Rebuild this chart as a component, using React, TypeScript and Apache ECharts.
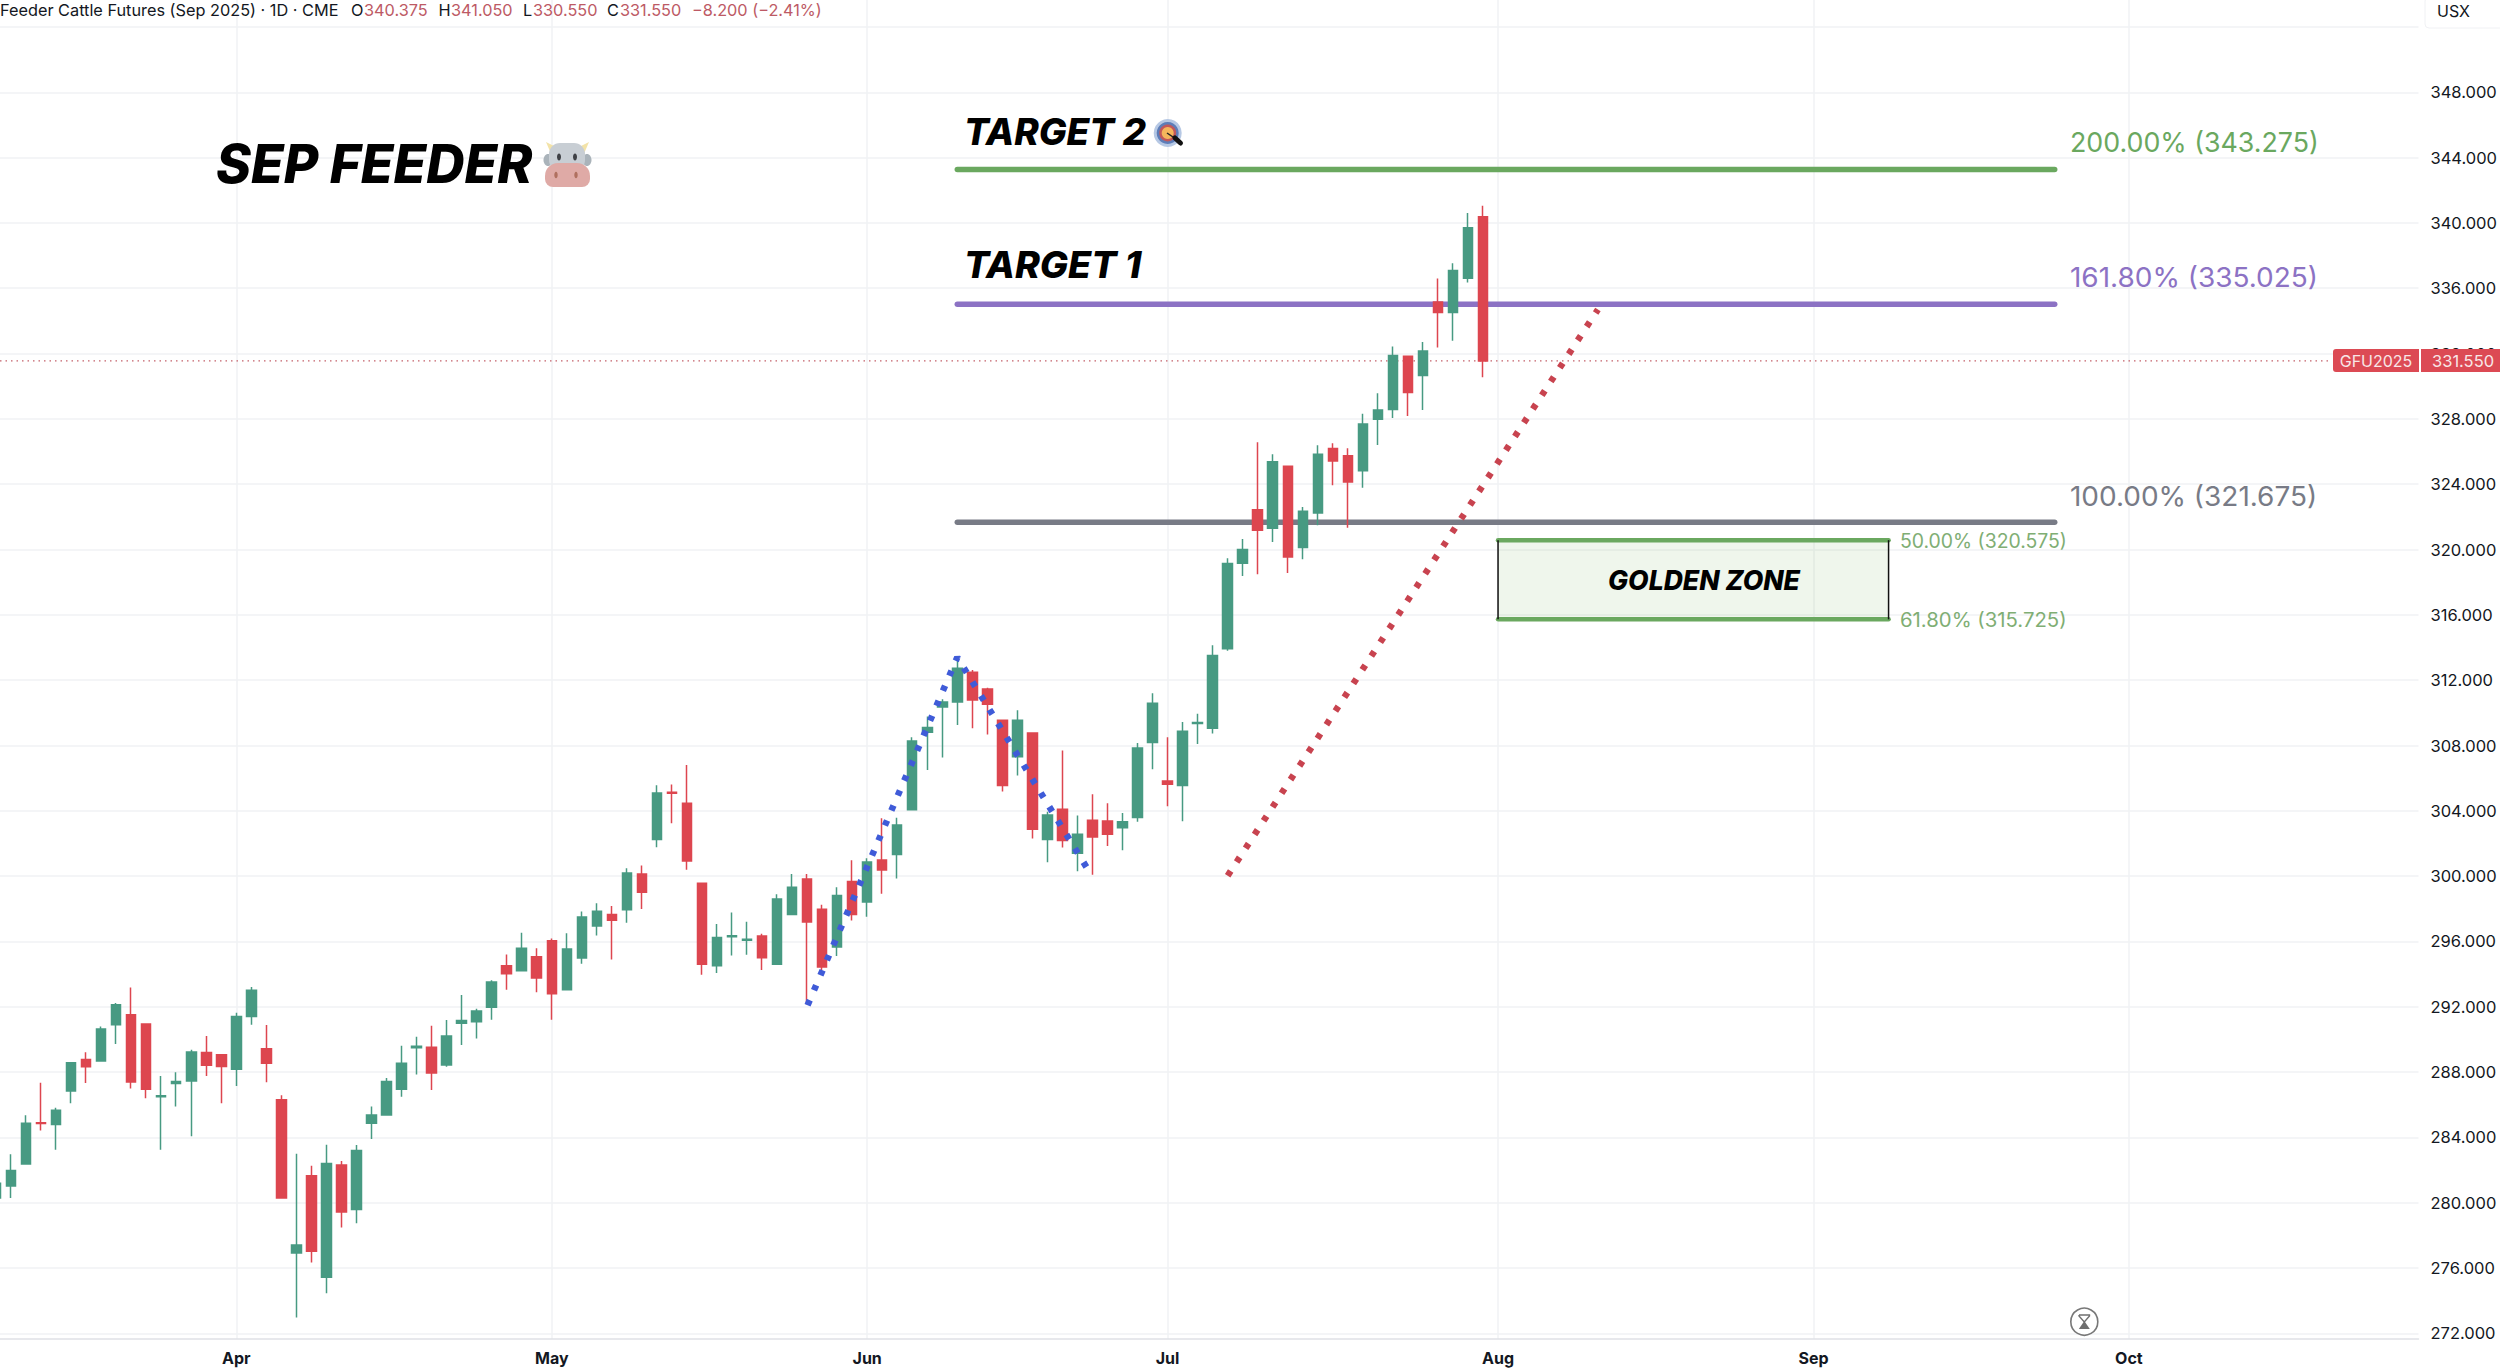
import React, { useEffect, useRef } from "react";
import * as echarts from "echarts";

// [open, close, low, high] per trading day
const ohlc: number[][] = [
  [280.3, 281.2, 279.5, 281.8],
  [281.03, 281.98, 280.3, 282.98],
  [282.38, 284.87, 282.38, 285.36],
  [284.9, 284.85, 284.42, 287.35],
  [284.8, 285.67, 283.25, 285.82],
  [286.84, 288.57, 286.09, 288.6],
  [288.77, 288.33, 287.33, 289.22],
  [288.68, 290.64, 288.68, 290.79],
  [290.9, 292.12, 289.73, 292.23],
  [291.52, 287.4, 287.0, 293.19],
  [290.95, 286.95, 286.4, 290.95],
  [286.5, 286.56, 283.25, 287.77],
  [287.31, 287.42, 285.89, 288.0],
  [287.46, 289.24, 284.07, 289.37],
  [289.2, 288.42, 287.77, 290.22],
  [289.06, 288.35, 286.09, 289.06],
  [288.17, 291.41, 287.15, 291.64],
  [291.41, 293.01, 290.9, 293.21],
  [289.44, 288.55, 287.38, 290.88],
  [286.31, 280.3, 280.3, 286.58],
  [276.93, 277.41, 272.98, 283.0],
  [281.65, 277.04, 276.35, 282.27],
  [275.44, 282.41, 274.46, 283.56],
  [282.32, 279.43, 278.48, 282.56],
  [279.59, 283.2, 278.74, 283.54],
  [284.87, 285.38, 283.91, 285.89],
  [285.38, 287.42, 285.38, 287.64],
  [286.95, 288.55, 286.49, 289.62],
  [289.5, 289.58, 287.86, 290.17],
  [289.53, 287.95, 286.91, 290.84],
  [288.44, 290.22, 288.33, 291.19],
  [290.99, 291.17, 289.66, 292.72],
  [291.08, 291.75, 290.06, 291.88],
  [291.97, 293.52, 291.21, 293.63],
  [294.52, 294.03, 293.05, 295.21],
  [294.21, 295.58, 294.21, 296.54],
  [295.07, 293.76, 292.89, 295.58],
  [296.05, 292.8, 291.21, 296.19],
  [293.05, 295.54, 293.05, 296.5],
  [294.99, 297.5, 294.64, 297.83],
  [296.95, 297.85, 296.36, 298.34],
  [297.66, 297.3, 294.89, 298.17],
  [297.95, 300.19, 297.15, 300.48],
  [300.13, 299.01, 297.99, 300.66],
  [302.24, 305.09, 301.77, 305.56],
  [305.14, 305.08, 303.24, 305.62],
  [304.46, 300.93, 300.4, 306.81],
  [299.56, 294.6, 293.97, 299.58],
  [294.52, 296.25, 294.07, 297.07],
  [296.29, 296.35, 295.15, 297.77],
  [296.08, 296.14, 295.19, 297.21],
  [296.34, 295.01, 294.25, 296.48],
  [294.6, 298.6, 294.6, 298.89],
  [297.66, 299.32, 297.66, 300.13],
  [299.83, 297.19, 292.15, 300.13],
  [297.97, 294.44, 294.25, 298.25],
  [295.66, 298.81, 295.11, 299.32],
  [299.68, 297.66, 297.28, 300.97],
  [298.42, 300.87, 297.52, 301.09],
  [300.99, 300.38, 298.93, 303.54],
  [301.32, 303.13, 299.85, 303.58],
  [304.07, 308.28, 304.07, 308.5],
  [308.81, 309.11, 306.5, 309.77],
  [310.36, 310.67, 307.26, 310.83],
  [310.67, 312.73, 309.26, 313.2],
  [312.49, 310.79, 309.06, 312.63],
  [311.46, 310.53, 308.67, 311.53],
  [309.55, 305.55, 305.18, 309.55],
  [307.32, 309.55, 306.16, 310.16],
  [308.77, 302.87, 302.3, 308.77],
  [302.24, 303.75, 300.85, 303.95],
  [304.1, 302.18, 301.75, 307.69],
  [301.4, 302.56, 300.3, 303.71],
  [303.42, 302.4, 300.09, 305.01],
  [303.38, 302.56, 301.85, 304.46],
  [302.97, 303.34, 301.59, 303.87],
  [303.59, 307.85, 303.34, 308.16],
  [308.18, 310.59, 306.55, 311.2],
  [305.83, 305.63, 304.28, 308.5],
  [305.55, 308.87, 303.36, 309.44],
  [309.35, 309.41, 308.1, 309.95],
  [309.06, 313.51, 308.73, 314.14],
  [313.93, 319.14, 313.81, 319.46],
  [319.16, 320.0, 318.38, 320.65],
  [322.44, 321.18, 318.48, 326.57],
  [321.3, 325.38, 320.46, 325.83],
  [325.1, 319.55, 318.57, 325.1],
  [320.12, 322.34, 319.4, 322.61],
  [322.24, 325.83, 321.49, 326.38],
  [326.18, 325.42, 323.93, 326.51],
  [325.75, 324.14, 321.34, 326.2],
  [324.83, 327.69, 323.79, 328.32],
  [327.98, 328.55, 326.4, 329.57],
  [328.57, 331.88, 328.06, 332.43],
  [331.83, 329.61, 328.18, 331.83],
  [330.65, 332.16, 328.55, 332.71],
  [335.16, 334.51, 332.37, 336.59],
  [334.51, 337.08, 332.79, 337.53],
  [336.61, 339.71, 336.35, 340.61],
  [340.375, 331.55, 330.55, 341.05],
];

const monthTicks = [16, 37, 58, 78, 100, 121, 142];
const monthNames = ["Apr", "May", "Jun", "Jul", "Aug", "Sep", "Oct"];
const gridPrices = [272, 276, 280, 284, 288, 292, 296, 300, 304, 308, 312, 316, 320, 324, 328, 332, 336, 340, 344, 348, 352];
const labelPrices = [272, 276, 280, 284, 288, 292, 296, 300, 304, 308, 312, 316, 320, 324, 328, 332, 336, 340, 344, 348];

const fibStart = 64;
const fibEnd = 137.06;
const fib200 = 343.275;
const fib161 = 335.025;
const fib100 = 321.675;
const zoneTop = 320.575;
const zoneBottom = 315.725;
const zoneStart = 100;
const zoneEnd = 126;
const lastPrice = 331.55;
const blueDots = [[54.03, 292.1], [64, 313.4], [72.6, 300.55]];
const redDots = [[82, 300.03], [106.65, 334.7]];

const FONT = "Inter, 'Noto Sans', sans-serif";
const GREEN = "#479a82";
const RED = "#dd464f";
const FIB_GREEN = "#6aa85f";
const FIB_PURPLE = "#8c72c4";
const FIB_GRAY = "#787b86";
const GRID = "#f1f2f5";

const txt = (x: number, y: number, text: string, fill: string, fontSize: number, extra: any = {}, scaleX = 1) => ({
  type: "text",
  x,
  y,
  scaleX,
  z: 100,
  silent: true,
  style: { text, fill, fontSize, fontFamily: FONT, align: "left", verticalAlign: "middle", ...extra },
});
const heavy = { fontWeight: 800, fontStyle: "italic" };

const hLine = (x0: number, x1: number, price: number, color: string, width: number, z = 1, extra: any = {}) => ({
  type: "line",
  z,
  silent: true,
  symbol: "none",
  data: [[x0, price], [x1, price]],
  lineStyle: { color, width, cap: "round", ...extra },
});

const cow = () => ({
  type: "group",
  z: 100,
  silent: true,
  children: [
    { type: "polygon", z: 100, shape: { points: [[546, 142], [552, 156], [558, 148]] }, style: { fill: "#f3e3a8" } },
    { type: "polygon", z: 100, shape: { points: [[589, 142], [583, 156], [577, 148]] }, style: { fill: "#f3e3a8" } },
    { type: "ellipse", z: 100, shape: { cx: 548, cy: 160, rx: 4.5, ry: 6 }, style: { fill: "#aab3ba" } },
    { type: "ellipse", z: 100, shape: { cx: 587, cy: 160, rx: 4.5, ry: 6 }, style: { fill: "#aab3ba" } },
    { type: "rect", z: 100, shape: { x: 549, y: 143, width: 36, height: 28, r: 11 }, style: { fill: "#c8ced4" } },
    { type: "rect", z: 100, shape: { x: 545, y: 163, width: 45, height: 24, r: [13, 13, 8, 8] }, style: { fill: "#dfaaa6" } },
    { type: "ellipse", z: 100, shape: { cx: 559, cy: 157, rx: 2, ry: 3.4 }, style: { fill: "#3f4146" } },
    { type: "ellipse", z: 100, shape: { cx: 575, cy: 157, rx: 2, ry: 3.4 }, style: { fill: "#3f4146" } },
    { type: "ellipse", z: 100, shape: { cx: 556, cy: 175, rx: 1.7, ry: 3.2 }, style: { fill: "#b0705f" } },
    { type: "ellipse", z: 100, shape: { cx: 576, cy: 175, rx: 1.7, ry: 3.2 }, style: { fill: "#b0705f" } },
  ],
});

const target = () => ({
  type: "group",
  z: 100,
  silent: true,
  children: [
    { type: "circle", z: 100, shape: { cx: 1167.7, cy: 133, r: 14 }, style: { fill: "#b6c8e4" } },
    { type: "circle", z: 100, shape: { cx: 1167.7, cy: 133, r: 11 }, style: { fill: "#5d7db8" } },
    { type: "circle", z: 100, shape: { cx: 1167.7, cy: 133, r: 8.5 }, style: { fill: "#c2585a" } },
    { type: "circle", z: 100, shape: { cx: 1167.7, cy: 133, r: 6 }, style: { fill: "#f5b65c" } },
    { type: "line", z: 100, shape: { x1: 1167, y1: 133, x2: 1176, y2: 139 }, style: { stroke: "#222", lineWidth: 1.5 } },
    { type: "line", z: 100, shape: { x1: 1175, y1: 138, x2: 1180.5, y2: 143 }, style: { stroke: "#111", lineWidth: 5, lineCap: "round" } },
  ],
});

const hourglass = () => ({
  type: "group",
  z: 100,
  silent: true,
  children: [
    { type: "circle", z: 100, shape: { cx: 2084.3, cy: 1321.7, r: 13.5 }, style: { fill: "#fff", stroke: "#787878", lineWidth: 1.6 } },
    { type: "polyline", z: 100, shape: { points: [[2079, 1315], [2089.5, 1315], [2089.5, 1316], [2084.3, 1322], [2079, 1316], [2079, 1315]] }, style: { stroke: "#6f6f6f", lineWidth: 1.4, fill: "none" } },
    { type: "polygon", z: 100, shape: { points: [[2084.3, 1321], [2089.8, 1329], [2078.8, 1329]] }, style: { fill: "#6f6f6f" } },
  ],
});

const headerParts: [number, string, string][] = [
  [0, "Feeder Cattle Futures (Sep 2025) · 1D · CME", "#131722"],
  [351, "O", "#131722"],
  [364, "340.375", "#bd5a65"],
  [438.6, "H", "#131722"],
  [451, "341.050", "#bd5a65"],
  [523, "L", "#131722"],
  [533, "330.550", "#bd5a65"],
  [607, "C", "#131722"],
  [620, "331.550", "#bd5a65"],
  [692, "−8.200 (−2.41%)", "#bd5a65"],
];

export default function App() {
  const ref = useRef<HTMLDivElement>(null);
  useEffect(() => {
    const chart = echarts.init(ref.current!, undefined, { renderer: "svg" });
    chart.setOption({
      animation: false,
      backgroundColor: "#ffffff",
      tooltip: { show: false },
      grid: { left: 0, top: 0, width: 2420, height: 1339, containLabel: false },
      xAxis: {
        type: "value",
        min: 0.266,
        max: 161.28,
        axisLine: { show: true, onZero: false, lineStyle: { color: "#dfe1e6", width: 1.5 } },
        axisTick: { show: false, customValues: monthTicks },
        splitLine: { show: true, lineStyle: { color: GRID, width: 1.5 } },
        axisLabel: {
          customValues: monthTicks,
          margin: 11,
          fontFamily: FONT,
          fontSize: 16,
          fontWeight: 700,
          color: "#131722",
          formatter: (v: number) => monthNames[monthTicks.indexOf(v)] ?? "",
        },
      },
      yAxis: {
        type: "value",
        position: "right",
        min: 271.66,
        max: 353.65,
        axisLine: { show: false },
        axisTick: { show: false, customValues: gridPrices },
        splitLine: { show: true, lineStyle: { color: GRID, width: 1.5 } },
        axisLabel: {
          customValues: labelPrices,
          margin: 12,
          fontFamily: FONT,
          fontSize: 16.5,
          color: "#131722",
          formatter: (v: number) => v.toFixed(3),
        },
      },
      series: [
        hLine(0.266, 155.5, lastPrice, "#c4606a", 1.2, 1, { type: [1.5, 4], cap: "butt" }),
        hLine(fibStart, fibEnd, fib200, FIB_GREEN, 5.5),
        hLine(fibStart, fibEnd, fib161, FIB_PURPLE, 5.5),
        hLine(fibStart, fibEnd, fib100, FIB_GRAY, 5.5),
        {
          type: "line",
          z: 1,
          silent: true,
          symbol: "none",
          data: [[zoneStart, zoneTop], [zoneEnd, zoneTop]],
          lineStyle: { color: FIB_GREEN, width: 4.5, cap: "round" },
          markArea: {
            silent: true,
            itemStyle: { color: "rgba(105,172,80,0.11)" },
            data: [[{ coord: [zoneStart, zoneTop] }, { coord: [zoneEnd, zoneBottom] }]],
          },
        },
        hLine(zoneStart, zoneEnd, zoneBottom, FIB_GREEN, 4.5),
        {
          type: "line", z: 1, silent: true, symbol: "none",
          data: [[zoneStart, zoneTop], [zoneStart, zoneBottom]],
          lineStyle: { color: "#111", width: 1.5 },
        },
        {
          type: "line", z: 1, silent: true, symbol: "none",
          data: [[zoneEnd, zoneTop], [zoneEnd, zoneBottom]],
          lineStyle: { color: "#111", width: 1.5 },
        },
        {
          type: "candlestick",
          z: 2,
          silent: true,
          barWidth: 10,
          data: ohlc.map((c, i) => [i, c[0], c[1], c[2], c[3]]),
          itemStyle: { color: GREEN, color0: RED, borderColor: GREEN, borderColor0: RED, borderWidth: 1.5 },
        },
        {
          type: "line", z: 3, silent: true, symbol: "none", data: blueDots,
          lineStyle: { color: "#3f5bd8", width: 6.5, type: [5.5, 10.8], cap: "butt" },
        },
        {
          type: "line", z: 3, silent: true, symbol: "none", data: redDots,
          lineStyle: { color: "#c8434f", width: 6.5, type: [5.5, 10.9], cap: "butt" },
        },
      ],
      graphic: [
        { type: "rect", z: 90, silent: true, shape: { x: 2422, y: 1340, width: 78, height: 28 }, style: { fill: "#ffffff" } },
        { type: "rect", z: 90, silent: true, shape: { x: 2425, y: -3, width: 80, height: 31, r: 4 }, style: { fill: "#ffffff", stroke: "#f0f1f4", lineWidth: 1 } },
        txt(2437, 11, "USX", "#131722", 16),
        ...headerParts.map(([x, t, c]) => txt(x, 10, t, c, 16.3)),
        txt(216, 164, "SEP FEEDER", "#000000", 53, heavy),
        cow(),
        txt(964, 131, "TARGET 2", "#000000", 37, heavy),
        target(),
        txt(964, 265, "TARGET 1", "#000000", 37, heavy, 1.015),
        txt(2070, 142, "200.00% (343.275)", FIB_GREEN, 26.8),
        txt(2070, 277, "161.80% (335.025)", FIB_PURPLE, 26.8, {}, 1.044),
        txt(2070, 496, "100.00% (321.675)", FIB_GRAY, 26.8, {}, 1.044),
        txt(1900, 541, "50.00% (320.575)", "#7fae74", 19.4),
        txt(1900, 620, "61.80% (315.725)", "#7fae74", 19.4, {}, 1.048),
        txt(1704, 580, "GOLDEN ZONE", "#000000", 26.6, { ...heavy, align: "center" }),
        { type: "rect", z: 90, silent: true, shape: { x: 2333, y: 349, width: 86, height: 23, r: [3, 0, 0, 3] }, style: { fill: "#dc4a54" } },
        { type: "rect", z: 90, silent: true, shape: { x: 2421, y: 349, width: 79, height: 23 }, style: { fill: "#dc4a54" } },
        txt(2376, 361, "GFU2025", "#f8e6e7", 16, { align: "center" }),
        txt(2432, 361, "331.550", "#f8e6e7", 16.5),
        hourglass(),
      ],
    });
    return () => chart.dispose();
  }, []);
  return (
    <div style={{ position: "fixed", left: 0, top: 0, width: 2500, height: 1368, background: "#fff" }}>
      <div ref={ref} style={{ width: 2500, height: 1368 }} />
    </div>
  );
}
